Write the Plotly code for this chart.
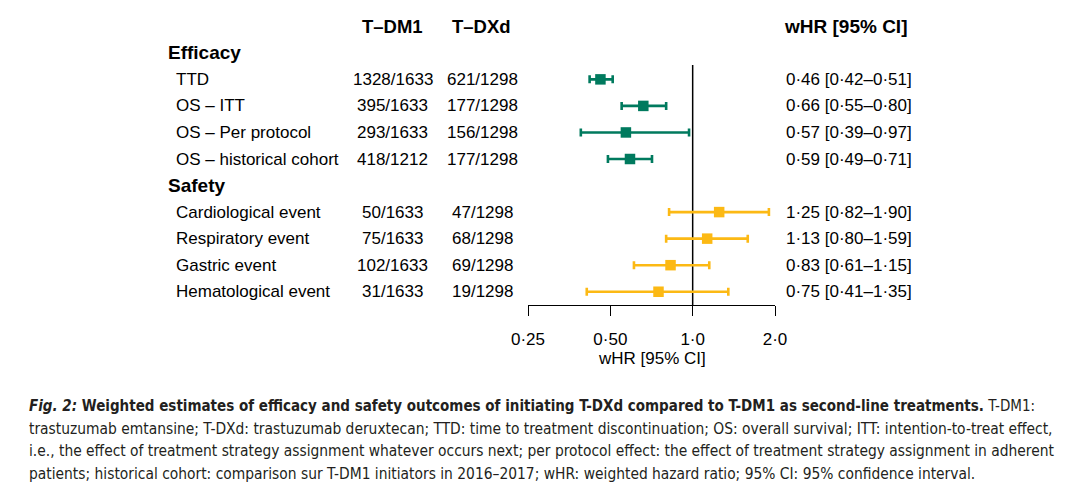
import plotly.graph_objects as go

W, H = 1080, 502
OX, OY = 8, 8  # page offset of the figure inside the browser window

# ---------------- data ----------------
col_headers = ["T–DM1", "T–DXd", "wHR [95% CI]"]
group_names = ["Efficacy", "Safety"]

efficacy_labels = ["TTD", "OS – ITT", "OS – Per protocol", "OS – historical cohort"]
efficacy_tdm1 = ["1328/1633", "395/1633", "293/1633", "418/1212"]
efficacy_tdxd = ["621/1298", "177/1298", "156/1298", "177/1298"]
efficacy_hr = [0.46, 0.66, 0.57, 0.59]
efficacy_lo = [0.42, 0.55, 0.39, 0.49]
efficacy_hi = [0.51, 0.80, 0.97, 0.71]

safety_labels = ["Cardiological event", "Respiratory event", "Gastric event", "Hematological event"]
safety_tdm1 = ["50/1633", "75/1633", "102/1633", "31/1633"]
safety_tdxd = ["47/1298", "68/1298", "69/1298", "19/1298"]
safety_hr = [1.25, 1.13, 0.83, 0.75]
safety_lo = [0.82, 0.80, 0.61, 0.41]
safety_hi = [1.90, 1.59, 1.15, 1.35]

tick_vals = [0.25, 0.5, 1.0, 2.0]
tick_text = ["0·25", "0·50", "1·0", "2·0"]
axis_title = "wHR [95% CI]"

caption_lines = [
    "<b><i>Fig. 2:</i> Weighted estimates of efficacy and safety outcomes of initiating T-DXd compared to T-DM1 as second-line treatments.</b> T-DM1:",
    "trastuzumab emtansine; T-DXd: trastuzumab deruxtecan; TTD: time to treatment discontinuation; OS: overall survival; ITT: intention-to-treat effect,",
    "i.e., the effect of treatment strategy assignment whatever occurs next; per protocol effect: the effect of treatment strategy assignment in adherent",
    "patients; historical cohort: comparison sur T-DM1 initiators in 2016–2017; wHR: weighted hazard ratio; 95% CI: 95% confidence interval.",
]

# ---------------- styling ----------------
GREEN = "#007A5E"
YELLOW = "#FCB914"
FONT = "Liberation Sans, Arial, sans-serif"
CAP_FONT = "DejaVu Sans Condensed, Liberation Sans Narrow, sans-serif"
FS = 17


def px(p):
    return (p - OX) / W


def py(p):
    return 1 - (p - OY) / H


def fmt(v):
    return f"{v:.2f}".replace(".", "·")


# row positions (0 = column header row)
eff_rows = [2, 3, 4, 5]
saf_rows = [7, 8, 9, 10]
group_rows = [1, 6]

fig = go.Figure()

for hr, lo, hi, rows, color in [
    (efficacy_hr, efficacy_lo, efficacy_hi, eff_rows, GREEN),
    (safety_hr, safety_lo, safety_hi, saf_rows, YELLOW),
]:
    fig.add_trace(go.Scatter(
        x=hr, y=rows, mode="markers",
        marker=dict(symbol="square", size=10.5, color=color),
        error_x=dict(type="data", symmetric=False,
                     array=[h - e for h, e in zip(hi, hr)],
                     arrayminus=[e - l for e, l in zip(hr, lo)],
                     color=color, thickness=2.6, width=4),
        showlegend=False, hoverinfo="skip",
    ))

ann = []
ann.append(dict(text=f"<b>{col_headers[0]}</b>", x=px(392), y=0, xanchor="center", font=dict(size=18.5)))
ann.append(dict(text=f"<b>{col_headers[1]}</b>", x=px(481), y=0, xanchor="center", font=dict(size=18.5)))
ann.append(dict(text=f"<b>{col_headers[2]}</b>", x=px(909), y=0, xanchor="right", font=dict(size=19)))
for g, r in zip(group_names, group_rows):
    ann.append(dict(text=f"<b>{g}</b>", x=px(166), y=r, xanchor="left", font=dict(size=19)))

for labels_, t1, t2, hr, lo, hi, rows in [
    (efficacy_labels, efficacy_tdm1, efficacy_tdxd, efficacy_hr, efficacy_lo, efficacy_hi, eff_rows),
    (safety_labels, safety_tdm1, safety_tdxd, safety_hr, safety_lo, safety_hi, saf_rows),
]:
    for lab, a, b, e, l, h, r in zip(labels_, t1, t2, hr, lo, hi, rows):
        ann.append(dict(text=lab, x=px(174), y=r, xanchor="left"))
        ann.append(dict(text=a, x=px(393), y=r, xanchor="center"))
        ann.append(dict(text=b, x=px(482), y=r, xanchor="center"))
        ann.append(dict(text=f"{fmt(e)} [{fmt(l)}–{fmt(h)}]", x=px(784), y=r, xanchor="left"))

for a in ann:
    a.update(xref="paper", yref="y", yanchor="middle", showarrow=False)

ann.append(dict(text=axis_title, x=px(652), y=py(358), xref="paper", yref="paper",
                xanchor="center", yanchor="middle", showarrow=False))

cap_y = [406, 428.5, 451, 473.5]
cap_size = [15, 15.4, 15.4, 15.4]
for line, yy, sz in zip(caption_lines, cap_y, cap_size):
    ann.append(dict(text=line, x=px(27), y=py(yy), xref="paper", yref="paper",
                    xanchor="left", yanchor="middle", showarrow=False,
                    font=dict(family=CAP_FONT, size=sz, color="#231F20")))

fig.update_layout(
    width=W, height=H,
    margin=dict(l=0, r=0, t=0, b=0, autoexpand=False),
    paper_bgcolor="white", plot_bgcolor="white",
    font=dict(family=FONT, size=FS, color="black"),
    annotations=ann,
    xaxis=dict(
        type="log", range=[-0.60206, 0.30103],
        domain=[px(528), px(775)],
        tickvals=tick_vals, ticktext=tick_text,
        showline=True, linecolor="black", linewidth=1.3,
        ticks="outside", ticklen=10, tickwidth=1.3, tickcolor="black",
        ticklabelstandoff=8, automargin=False,
        showgrid=False, zeroline=False,
        tickfont=dict(size=FS),
    ),
    yaxis=dict(
        range=[10.5, -0.5], domain=[py(305), py(13)],
        visible=False, showgrid=False, zeroline=False, automargin=False,
    ),
    shapes=[dict(type="line", xref="x", yref="paper", x0=1, x1=1,
                 y0=py(305), y1=py(65), line=dict(color="black", width=1.5),
                 layer="below")],
)

fig.write_html("out.html")
